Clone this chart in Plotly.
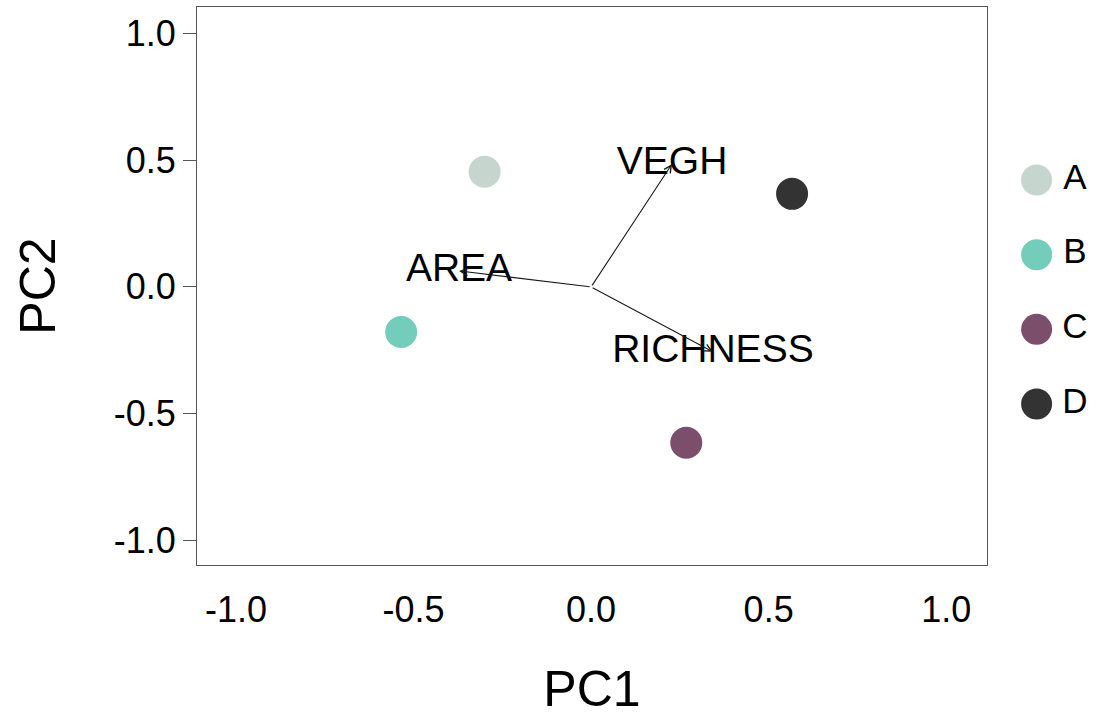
import plotly.graph_objects as go

# Site scores on the first two principal components
groups = ["A", "B", "C", "D"]
pc1 = [-0.30, -0.535, 0.268, 0.566]
pc2 = [0.454, -0.178, -0.615, 0.367]
group_colors = ["#C6D6CE", "#74CDBB", "#7B4F6B", "#333333"]

# Variable loadings (arrow tips)
variables = ["VEGH", "AREA", "RICHNESS"]
load_pc1 = [0.228, -0.372, 0.343]
load_pc2 = [0.485, 0.063, -0.256]

tick_vals = [-1.0, -0.5, 0.0, 0.5, 1.0]
tick_text = ["-1.0", "-0.5", "0.0", "0.5", "1.0"]

W, H = 1097, 717
FONT = "Liberation Sans, Arial, sans-serif"

# plot panel in pixels
px_l, px_r, px_t, px_b = 197, 987, 7, 565
xdom = [px_l / W, px_r / W]
ydom = [(H - px_b) / H, (H - px_t) / H]

fig = go.Figure()

fig.add_trace(go.Scatter(
    x=pc1, y=pc2, mode="markers",
    marker=dict(size=32, color=group_colors, line=dict(width=0)),
    showlegend=False, hoverinfo="skip",
))

fig.add_trace(go.Scatter(
    x=load_pc1, y=load_pc2, mode="text", text=variables,
    textposition="middle center",
    textfont=dict(family=FONT, size=39, color="#000000"),
    showlegend=False, hoverinfo="skip",
))

# loading arrows from the origin
for vx, vy in zip(load_pc1, load_pc2):
    fig.add_annotation(
        x=vx, y=vy, ax=0, ay=0, xref="x", yref="y", axref="x", ayref="y",
        showarrow=True, arrowhead=5, arrowsize=1.3, arrowwidth=1.1,
        arrowcolor="#1a1a1a", text="",
    )

# key for the groups, drawn on its own axes to the right of the panel
fig.add_trace(go.Scatter(
    x=[0] * len(groups), y=groups, mode="markers",
    marker=dict(size=31, color=group_colors, line=dict(width=0)),
    xaxis="x2", yaxis="y2", showlegend=False, hoverinfo="skip", cliponaxis=False,
))
fig.add_trace(go.Scatter(
    x=[1.27] * len(groups), y=groups, mode="text", text=groups,
    textposition="middle center",
    textfont=dict(family=FONT, size=35, color="#000000"),
    xaxis="x2", yaxis="y2", showlegend=False, hoverinfo="skip", cliponaxis=False,
))

fig.update_layout(
    width=W, height=H,
    margin=dict(l=0, r=0, t=0, b=0),
    paper_bgcolor="white", plot_bgcolor="white",
    font=dict(family=FONT, color="#000000"),
    xaxis=dict(
        domain=xdom, range=[-1.11, 1.115],
        tickvals=tick_vals, ticktext=tick_text, ticks="",
        tickfont=dict(size=36, color="#000000"),
        ticklabelstandoff=13,
        showgrid=False, zeroline=False,
        showline=True, mirror=True, linecolor="#555555", linewidth=1,
        title=dict(text="PC1", font=dict(size=50), standoff=42),
    ),
    yaxis=dict(
        domain=ydom, range=[-1.097, 1.104],
        tickvals=tick_vals, ticktext=tick_text,
        ticks="outside", ticklen=13, tickcolor="#555555", tickwidth=1,
        tickfont=dict(size=36, color="#000000"),
        showgrid=False, zeroline=False,
        showline=True, mirror=True, linecolor="#555555", linewidth=1,
        title=dict(text="PC2", font=dict(size=50), standoff=42),
    ),
    xaxis2=dict(
        domain=[1020 / W, 1.0], range=[-0.55, 2.0], anchor="y2",
        visible=False, fixedrange=True,
    ),
    yaxis2=dict(
        domain=ydom, type="category", categoryorder="array", categoryarray=groups,
        range=[5.156, -2.317], anchor="x2", visible=False, fixedrange=True,
    ),
)

fig.write_html("out.html")
